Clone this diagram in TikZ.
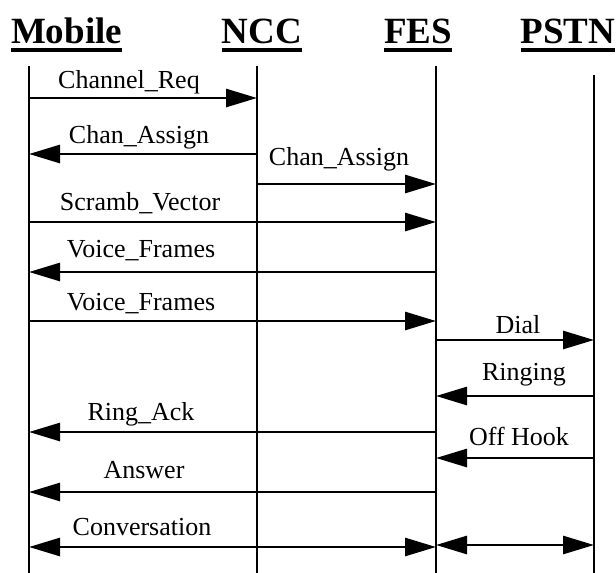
\documentclass[tikz,border=0pt]{standalone}
\usepackage{fontspec}
\setmainfont{Liberation Serif}
\usetikzlibrary{arrows.meta}
\tikzset{
  head/.style={inner sep=0pt, anchor=base, font=\fontsize{37}{40}\selectfont\bfseries},
  uline/.style={line width=3.5pt},
  life/.style={line width=2.5pt},
  lbl/.style={inner sep=0pt, anchor=base, font=\fontsize{26}{30}\selectfont},
  msg/.style={line width=2.8pt, -{Triangle[length=31pt,width=18pt]}},
  bimsg/.style={line width=2.8pt, {Triangle[length=31pt,width=18pt]}-{Triangle[length=31pt,width=18pt]}}
}
\begin{document}
\begin{tikzpicture}[x=1pt,y=-1pt]
\useasboundingbox (0,0) rectangle (616,573);
% headings
\node[head] (hM) at (66.5,43) {Mobile};
\node[head] (hN) at (262,43) {NCC};
\node[head] (hF) at (418,43) {FES};
\node[head] (hP) at (568,43) {PSTN};
\foreach \h in {hM,hN,hF,hP}{
  \draw[uline] ([yshift=-7pt]\h.base west) -- ([yshift=-7pt]\h.base east);
}
% lifelines
\coordinate (Mt) at (29,66);  \coordinate (Mb) at (29,573);
\coordinate (Nt) at (257,66); \coordinate (Nb) at (257,573);
\coordinate (Ft) at (436,66); \coordinate (Fb) at (436,573);
\coordinate (Pt) at (594,75); \coordinate (Pb) at (594,573);
\draw[life] (Mt) -- (Mb);
\draw[life] (Nt) -- (Nb);
\draw[life] (Ft) -- (Fb);
\draw[life] (Pt) -- (Pb);
% message end points
\coordinate (m1a) at (29,98);   \coordinate (m1b) at (257,98);
\coordinate (m2a) at (257,154); \coordinate (m2b) at (29,154);
\coordinate (m3a) at (257,184); \coordinate (m3b) at (436,184);
\coordinate (m4a) at (29,222);  \coordinate (m4b) at (436,222);
\coordinate (m5a) at (436,272); \coordinate (m5b) at (29,272);
\coordinate (m6a) at (29,321);  \coordinate (m6b) at (436,321);
\coordinate (m7a) at (436,340); \coordinate (m7b) at (594,340);
\coordinate (m8a) at (594,396); \coordinate (m8b) at (436,396);
\coordinate (m9a) at (436,432); \coordinate (m9b) at (29,432);
\coordinate (m10a) at (594,458); \coordinate (m10b) at (436,458);
\coordinate (m11a) at (436,492); \coordinate (m11b) at (29,492);
\coordinate (m12a) at (29,547);  \coordinate (m12b) at (436,547);
\coordinate (m13a) at (436,545); \coordinate (m13b) at (594,545);
% messages
\draw[msg] (m1a) -- (m1b);
\draw[msg] (m2a) -- (m2b);
\draw[msg] (m3a) -- (m3b);
\draw[msg] (m4a) -- (m4b);
\draw[msg] (m5a) -- (m5b);
\draw[msg] (m6a) -- (m6b);
\draw[msg] (m7a) -- (m7b);
\draw[msg] (m8a) -- (m8b);
\draw[msg] (m9a) -- (m9b);
\draw[msg] (m10a) -- (m10b);
\draw[msg] (m11a) -- (m11b);
\draw[bimsg] (m12a) -- (m12b);
\draw[bimsg] (m13a) -- (m13b);
% labels
\node[lbl] (l1) at (129,88) {Channel\_Req};
\node[lbl] (l2) at (139,143) {Chan\_Assign};
\node[lbl] (l3) at (339,165) {Chan\_Assign};
\node[lbl] (l4) at (140,210) {Scramb\_Vector};
\node[lbl] (l5) at (141,257) {Voice\_Frames};
\node[lbl] (l6) at (141,310) {Voice\_Frames};
\node[lbl] (l7) at (518,333) {Dial};
\node[lbl] (l8) at (524,380) {Ringing};
\node[lbl] (l9) at (141,420) {Ring\_Ack};
\node[lbl] (l10) at (519,445) {Off Hook};
\node[lbl] (l11) at (144,478) {Answer};
\node[lbl] (l12) at (142,535) {Conversation};
\end{tikzpicture}
\end{document}
